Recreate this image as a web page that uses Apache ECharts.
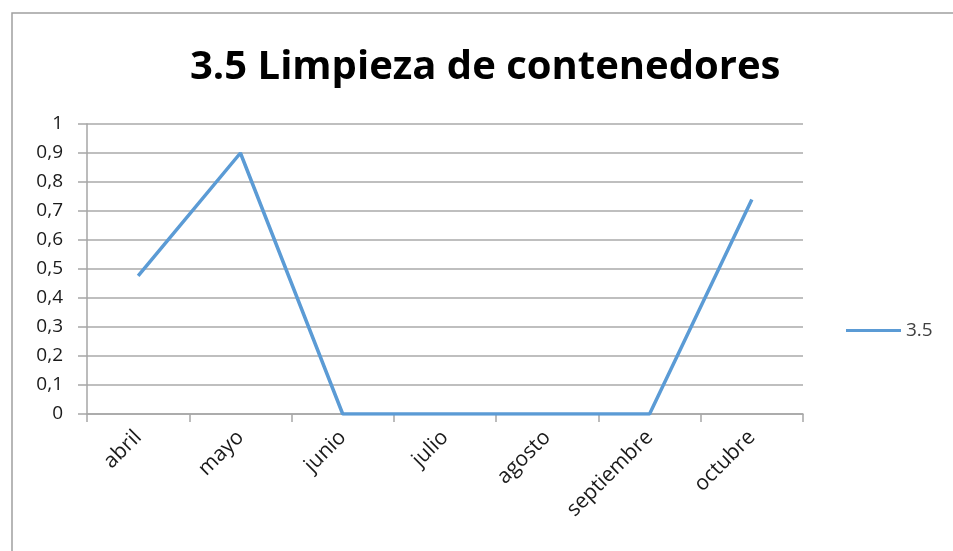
<!DOCTYPE html>
<html>
<head>
<meta charset="utf-8">
<script src="https://cdn.jsdelivr.net/npm/echarts@6/dist/echarts.min.js"></script>
<style>
  html, body { margin: 0; padding: 0; background: #fff; }
  #chart { width: 953px; height: 551px; }
</style>
</head>
<body>
<div id="chart"></div>
<script>
/*** datos ***/
var meses = ['abril', 'mayo', 'junio', 'julio', 'agosto', 'septiembre', 'octubre'];
var serie35 = [0.476, 0.9, 0, 0, 0, 0, 0.74];
var nombreSerie = '3.5';
var titulo = '3.5 Limpieza de contenedores';

var myChart = echarts.init(document.getElementById('chart'));

var option = {
	animation: false,
	backgroundColor: '#fff',
	title: {
		text: titulo,
		left: 185,
		top: 43,
		textStyle: {
			fontFamily: 'Open Sans',
			fontWeight: 'bold',
			fontSize: 40,
			color: '#000'
		}
	},
	// marco del gráfico
	graphic: [{
		type: 'polyline',
		shape: { points: [[12, 551], [12, 13], [953, 13]] },
		style: { stroke: '#a0a0a0', lineWidth: 1.5, fill: null }
	}],
	legend: {
		show: true,
		orient: 'vertical',
		left: 841,
		top: 316,
		itemWidth: 55,
		itemHeight: 3,
		itemGap: 6,
		icon: 'rect',
		textStyle: {
			fontFamily: 'Open Sans',
			fontSize: 19,
			color: '#404040'
		},
		data: [nombreSerie]
	},
	grid: {
		left: 87,
		right: 150,
		top: 124,
		bottom: 137
	},
	xAxis: [{
		type: 'category',
		boundaryGap: true,
		data: meses,
		axisLine: { show: true, lineStyle: { color: '#a6a6a6', width: 1.5 } },
		axisTick: { show: true, length: 8, interval: 0, lineStyle: { color: '#a6a6a6', width: 1.5 } },
		axisLabel: {
			interval: 0,
			rotate: 45,
			margin: 20,
			fontFamily: 'Open Sans',
			fontSize: 21,
			color: '#1a1a1a'
		}
	}],
	yAxis: [{
		type: 'value',
		min: 0,
		max: 1,
		interval: 0.1,
		axisLine: { show: true, lineStyle: { color: '#a6a6a6', width: 1.5 } },
		axisTick: { show: true, length: 9, lineStyle: { color: '#a6a6a6', width: 1.5 } },
		splitLine: { show: true, lineStyle: { color: '#bfbfbf', width: 2 } },
		axisLabel: {
			margin: 24,
			fontFamily: 'Open Sans',
			fontSize: 19,
			color: '#1a1a1a',
			formatter: function (v) {
				return String(Math.round(v * 10) / 10).replace('.', ',');
			}
		}
	}],
	series: [{
		name: nombreSerie,
		type: 'line',
		data: serie35,
		symbol: 'none',
		lineStyle: { color: '#5b9bd5', width: 3.5 },
		itemStyle: { color: '#5b9bd5' }
	}]
};

myChart.setOption(option);
</script>
</body>
</html>
